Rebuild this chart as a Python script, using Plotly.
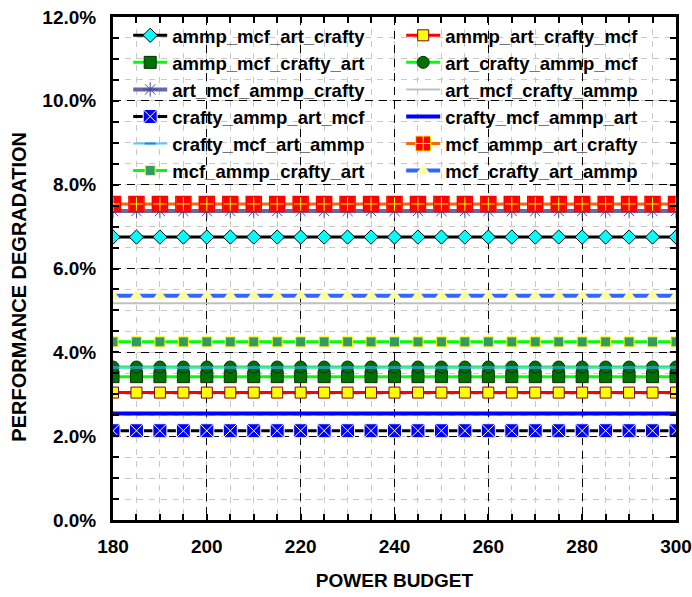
import plotly.graph_objects as go

power_budget = [180, 185, 190, 195, 200, 205, 210, 215, 220, 225, 230, 235, 240,
                245, 250, 255, 260, 265, 270, 275, 280, 285, 290, 295, 300]

series_names = [
    "ammp_mcf_art_crafty", "ammp_art_crafty_mcf",
    "ammp_mcf_crafty_art", "art_crafty_ammp_mcf",
    "art_mcf_ammp_crafty", "art_mcf_crafty_ammp",
    "crafty_ammp_art_mcf", "crafty_mcf_ammp_art",
    "crafty_mcf_art_ammp", "mcf_ammp_art_crafty",
    "mcf_ammp_crafty_art", "mcf_crafty_art_ammp",
]

ammp_mcf_art_crafty = [0.0675, 0.0675, 0.0675, 0.0675, 0.0675, 0.0675, 0.0675, 0.0675, 0.0675, 0.0675, 0.0675, 0.0675, 0.0675,
                       0.0675, 0.0675, 0.0675, 0.0675, 0.0675, 0.0675, 0.0675, 0.0675, 0.0675, 0.0675, 0.0675, 0.0675]
ammp_art_crafty_mcf = [0.0304, 0.0304, 0.0304, 0.0304, 0.0304, 0.0304, 0.0304, 0.0304, 0.0304, 0.0304, 0.0304, 0.0304, 0.0304,
                       0.0304, 0.0304, 0.0304, 0.0304, 0.0304, 0.0304, 0.0304, 0.0304, 0.0304, 0.0304, 0.0304, 0.0304]
ammp_mcf_crafty_art = [0.0342, 0.0342, 0.0342, 0.0342, 0.0342, 0.0342, 0.0342, 0.0342, 0.0342, 0.0342, 0.0342, 0.0342, 0.0342,
                       0.0342, 0.0342, 0.0342, 0.0342, 0.0342, 0.0342, 0.0342, 0.0342, 0.0342, 0.0342, 0.0342, 0.0342]
art_crafty_ammp_mcf = [0.0365, 0.0365, 0.0365, 0.0365, 0.0365, 0.0365, 0.0365, 0.0365, 0.0365, 0.0365, 0.0365, 0.0365, 0.0365,
                       0.0365, 0.0365, 0.0365, 0.0365, 0.0365, 0.0365, 0.0365, 0.0365, 0.0365, 0.0365, 0.0365, 0.0365]
art_mcf_ammp_crafty = [0.0737, 0.0737, 0.0737, 0.0737, 0.0737, 0.0737, 0.0737, 0.0737, 0.0737, 0.0737, 0.0737, 0.0737, 0.0737,
                       0.0737, 0.0737, 0.0737, 0.0737, 0.0737, 0.0737, 0.0737, 0.0737, 0.0737, 0.0737, 0.0737, 0.0737]
art_mcf_crafty_ammp = [0.0517, 0.0517, 0.0517, 0.0517, 0.0517, 0.0517, 0.0517, 0.0517, 0.0517, 0.0517, 0.0517, 0.0517, 0.0517,
                       0.0517, 0.0517, 0.0517, 0.0517, 0.0517, 0.0517, 0.0517, 0.0517, 0.0517, 0.0517, 0.0517, 0.0517]
crafty_ammp_art_mcf = [0.0213, 0.0213, 0.0213, 0.0213, 0.0213, 0.0213, 0.0213, 0.0213, 0.0213, 0.0213, 0.0213, 0.0213, 0.0213,
                       0.0213, 0.0213, 0.0213, 0.0213, 0.0213, 0.0213, 0.0213, 0.0213, 0.0213, 0.0213, 0.0213, 0.0213]
crafty_mcf_ammp_art = [0.0254, 0.0254, 0.0254, 0.0254, 0.0254, 0.0254, 0.0254, 0.0254, 0.0254, 0.0254, 0.0254, 0.0254, 0.0254,
                       0.0254, 0.0254, 0.0254, 0.0254, 0.0254, 0.0254, 0.0254, 0.0254, 0.0254, 0.0254, 0.0254, 0.0254]
crafty_mcf_art_ammp = [0.0364, 0.0364, 0.0364, 0.0364, 0.0364, 0.0364, 0.0364, 0.0364, 0.0364, 0.0364, 0.0364, 0.0364, 0.0364,
                       0.0364, 0.0364, 0.0364, 0.0364, 0.0364, 0.0364, 0.0364, 0.0364, 0.0364, 0.0364, 0.0364, 0.0364]
mcf_ammp_art_crafty = [0.0754, 0.0754, 0.0754, 0.0754, 0.0754, 0.0754, 0.0754, 0.0754, 0.0754, 0.0754, 0.0754, 0.0754, 0.0754,
                       0.0754, 0.0754, 0.0754, 0.0754, 0.0754, 0.0754, 0.0754, 0.0754, 0.0754, 0.0754, 0.0754, 0.0754]
mcf_ammp_crafty_art = [0.0425, 0.0425, 0.0425, 0.0425, 0.0425, 0.0425, 0.0425, 0.0425, 0.0425, 0.0425, 0.0425, 0.0425, 0.0425,
                       0.0425, 0.0425, 0.0425, 0.0425, 0.0425, 0.0425, 0.0425, 0.0425, 0.0425, 0.0425, 0.0425, 0.0425]
mcf_crafty_art_ammp = [0.0535, 0.0535, 0.0535, 0.0535, 0.0535, 0.0535, 0.0535, 0.0535, 0.0535, 0.0535, 0.0535, 0.0535, 0.0535,
                       0.0535, 0.0535, 0.0535, 0.0535, 0.0535, 0.0535, 0.0535, 0.0535, 0.0535, 0.0535, 0.0535, 0.0535]

series_values = [
    ammp_mcf_art_crafty, ammp_art_crafty_mcf,
    ammp_mcf_crafty_art, art_crafty_ammp_mcf,
    art_mcf_ammp_crafty, art_mcf_crafty_ammp,
    crafty_ammp_art_mcf, crafty_mcf_ammp_art,
    crafty_mcf_art_ammp, mcf_ammp_art_crafty,
    mcf_ammp_crafty_art, mcf_crafty_art_ammp,
]

x_ticks = [180, 200, 220, 240, 260, 280, 300]
y_ticks = [0.0, 0.02, 0.04, 0.06, 0.08, 0.10, 0.12]

styles = [
    dict(line=dict(color="#000000", width=3), marker=dict(symbol="diamond", size=11, color="#00FFFF", line=dict(color="#000000", width=1))),
    dict(line=dict(color="#FF0000", width=3), marker=dict(symbol="square", size=11, color="#FFFF00", line=dict(color="#800000", width=1))),
    dict(line=dict(color="#00FF00", width=3), marker=dict(symbol="square", size=12, color="#007000", line=dict(color="#003300", width=1))),
    dict(line=dict(color="#00FF00", width=3), marker=dict(symbol="circle", size=12, color="#007000", line=dict(color="#003300", width=1))),
    dict(line=dict(color="#6666A8", width=4), marker=dict(symbol="asterisk-open", size=12, color="#4848A0", line=dict(color="#4848A0", width=1))),
    dict(line=dict(color="#C0C0C0", width=2), marker=None),
    dict(line=dict(color="#000000", width=3), marker=dict(symbol="square-x", size=14, color="#0000FF", line=dict(color="#FFFFFF", width=1))),
    dict(line=dict(color="#0000FF", width=4), marker=None),
    dict(line=dict(color="#55CCFF", width=2), marker=dict(symbol="line-ew", size=8, color="#1E90C8", line=dict(color="#1E90C8", width=2))),
    dict(line=dict(color="#FF6600", width=3), marker=dict(symbol="square-cross", size=15, color="#FF0000", line=dict(color="#FFFF00", width=1))),
    dict(line=dict(color="#00FF00", width=3), marker=dict(symbol="square", size=10, color="#339966", line=dict(color="#FFFF00", width=1))),
    dict(line=dict(color="#3366FF", width=4), marker=dict(symbol="triangle-up", size=12, color="#FFFF99", line=dict(color="#FFFF99", width=0))),
]

fig = go.Figure()
for name, vals, st in zip(series_names, series_values, styles):
    if st["marker"] is None:
        fig.add_trace(go.Scatter(x=power_budget, y=vals, name=name, mode="lines",
                                 line=st["line"]))
    else:
        fig.add_trace(go.Scatter(x=power_budget, y=vals, name=name, mode="lines+markers",
                                 line=st["line"], marker=st["marker"]))
    if name == "mcf_ammp_art_crafty":
        # red border over the yellow cross marker outline
        fig.add_trace(go.Scatter(x=power_budget, y=vals, mode="markers", showlegend=False,
                                 hoverinfo="skip",
                                 marker=dict(symbol="square-open", size=15, color="#FF0000",
                                             line=dict(color="#FF0000", width=1.5))))

font_family = "Liberation Sans, Arial, sans-serif"

# white legend backdrop (hides gridlines behind legend, stays under axis lines)
fig.add_shape(type="rect", xref="paper", yref="paper", x0=0, x1=1, y0=0.672, y1=1,
              fillcolor="white", line=dict(width=0), layer="between")

fig.update_layout(
    width=692, height=597,
    margin=dict(l=113, r=16, t=17, b=77),
    paper_bgcolor="white", plot_bgcolor="white",
    font=dict(family=font_family, size=19, color="black", weight="bold"),
    showlegend=True,
    legend=dict(
        orientation="h", x=0.027, y=1.0004, xanchor="left", yanchor="top",
        bgcolor="rgba(0,0,0,0)", borderwidth=0,
        font=dict(family=font_family, size=18.5, color="black", weight="bold"),
        entrywidth=224, entrywidthmode="pixels", itemwidth=34,
        itemclick=False,
    ),
    xaxis=dict(
        range=[180, 300], tickvals=x_ticks, ticktext=[str(v) for v in x_ticks],
        automargin=False,
        showline=True, linecolor="black", linewidth=3, mirror="ticks",
        ticks="inside", ticklen=6, tickwidth=2, tickcolor="black",
        showgrid=True, gridcolor="#000000", gridwidth=1, griddash="8px,6px",
        zeroline=False, ticklabeloverflow="allow", ticklabelstandoff=7,
        tickfont=dict(family=font_family, size=19, color="black", weight="bold"),
        minor=dict(dtick=5, tick0=180, showgrid=True, gridcolor="#C8C8C8", gridwidth=1,
                   griddash="6px,6px", ticks="inside", ticklen=6, tickwidth=2, tickcolor="black"),
        title=dict(text="POWER BUDGET", standoff=18,
                   font=dict(family=font_family, size=19, color="black", weight="bold")),
    ),
    yaxis=dict(
        range=[0, 0.12], tickvals=y_ticks, tickformat=".1%",
        automargin=False,
        showline=True, linecolor="black", linewidth=3, mirror="ticks",
        ticks="inside", ticklen=6, tickwidth=2, tickcolor="black",
        showgrid=True, gridcolor="#000000", gridwidth=1, griddash="8px,6px",
        zeroline=False, ticklabelstandoff=10,
        tickfont=dict(family=font_family, size=19, color="black", weight="bold"),
        minor=dict(dtick=0.005, tick0=0, showgrid=True, gridcolor="#C8C8C8", gridwidth=1,
                   griddash="6px,6px", ticks="inside", ticklen=6, tickwidth=2, tickcolor="black"),
    ),
    annotations=[dict(
        text="PERFORMANCE DEGRADATION", textangle=-90,
        xref="paper", yref="paper", x=-0.166, y=0.463, xanchor="center", yanchor="middle",
        showarrow=False,
        font=dict(family=font_family, size=20, color="black", weight="bold"),
    )],
)

fig.write_html("out.html")
